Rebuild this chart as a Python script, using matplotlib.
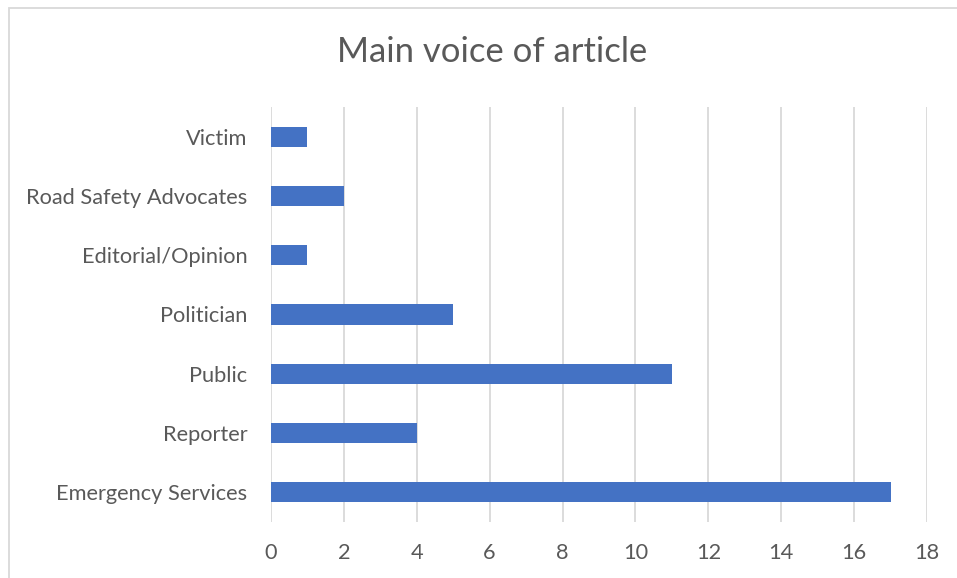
import matplotlib
matplotlib.use("Agg")
import matplotlib.pyplot as plt
from matplotlib.patches import Rectangle

categories = ["Emergency Services", "Reporter", "Public", "Politician",
              "Editorial/Opinion", "Road Safety Advocates", "Victim"]
values = [17, 4, 11, 5, 1, 2, 1]
xticks = list(range(0, 19, 2))
title = "Main voice of article"

plt.rcParams['font.family'] = ['Lato', 'DejaVu Sans']

fig = plt.figure(figsize=(9.57, 5.78), dpi=100)
ax = fig.add_axes([271/957, 1-522/578, (927-271)/957, (522-107)/578])

ax.barh(range(len(categories)), values, height=0.34, color="#4472C4", zorder=3)
ax.set_xlim(0, 18)
ax.set_ylim(-0.5, len(categories)-0.5)
ax.set_xticks(xticks)
ax.set_xticklabels([str(t) for t in xticks])
ax.set_yticks(range(len(categories)))
ax.set_yticklabels(categories)
ax.tick_params(axis='both', length=0, labelsize=15.7, colors="#595959")
ax.tick_params(axis='x', pad=15)
ax.tick_params(axis='y', pad=17)
ax.grid(axis='x', color="#D9D9D9", linewidth=1.3, zorder=0)
for s in ax.spines.values():
    s.set_visible(False)

fig.text(492/957, 1-52/578, title, ha='center', va='center', fontsize=24.9, color="#595959")

fig.patches.append(Rectangle((9/957, -0.05), 1.1, 1-8/578+0.05, transform=fig.transFigure,
                             fill=False, edgecolor="#D9D9D9", linewidth=1.3, zorder=0))

fig.savefig("out.png", dpi=100)
